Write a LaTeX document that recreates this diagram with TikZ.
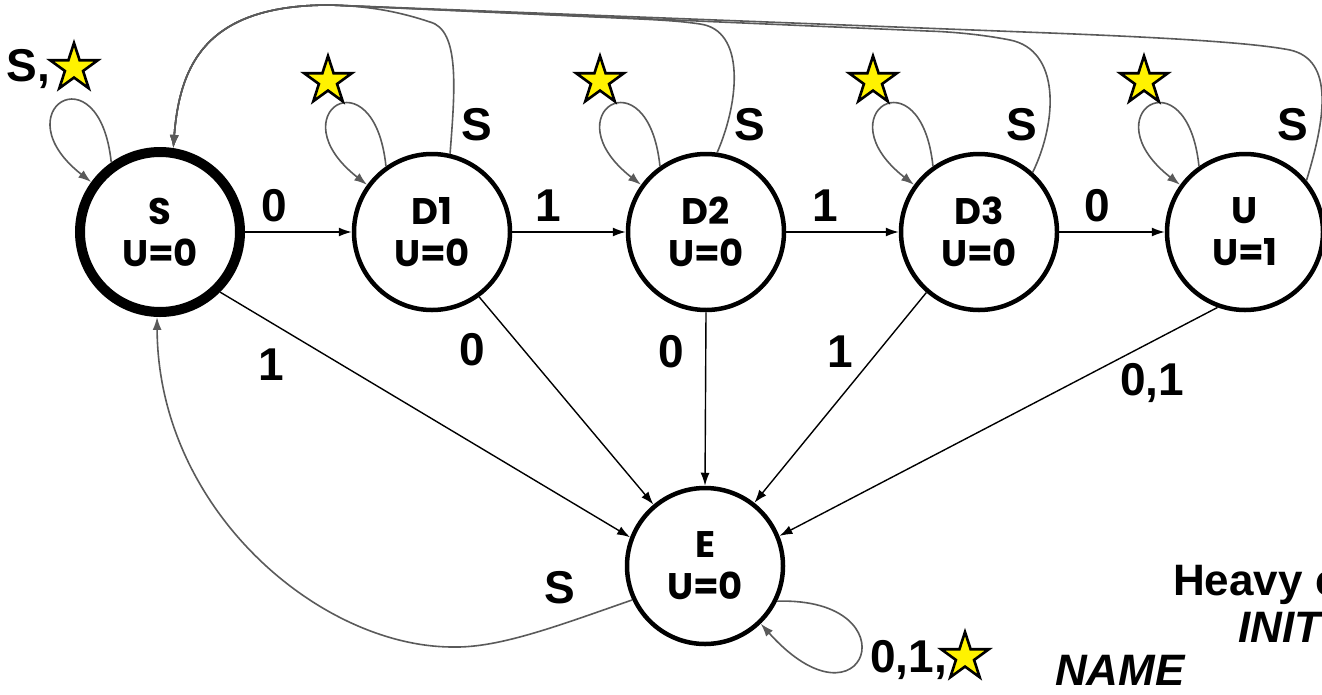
\documentclass[tikz,border=0pt]{standalone}
\usepackage{fontspec}
\setmainfont{Liberation Sans}
\newfontfamily\statefont{Poppins}
\usetikzlibrary{arrows.meta,shapes.geometric}
\definecolor{loopgray}{RGB}{90,90,90}

\begin{document}
\begin{tikzpicture}[x=1pt,y=1pt]
	\tikzstyle{every node}+=[inner sep=0pt]
	\tikzstyle{state}=[circle,draw=black,line width=4.5pt,minimum size=156pt,align=center,font=\statefont\bfseries\fontsize{37}{42}\selectfont]
	\tikzstyle{lbl}=[font=\bfseries\fontsize{46}{50}\selectfont]
	\tikzstyle{note}=[anchor=base west,font=\bfseries\fontsize{44}{48}\selectfont]
	\tikzstyle{edge}=[black,line width=1.4pt,-{Latex[length=13pt,width=9pt]}]
	\tikzstyle{sedge}=[loopgray,line width=1.6pt,-{Latex[length=13pt,width=9pt]}]
	\tikzstyle{selfloop}=[sedge,out=96,in=142,distance=115pt]
	\tikzstyle{staricon}=[star,star points=5,star point ratio=2.618,draw=black,fill=yellow,line width=2.6pt,minimum size=50pt]
	\useasboundingbox (0,0) rectangle (1322,-694);
	\clip (0,0) rectangle (1322,-694);
	% states
	\node [state,line width=10pt,minimum size=160pt] (s) at (160,-232) {S\\U=0};
	\node [state] (d1) at (432,-232) {D1\\U=0};
	\node [state] (d2) at (706,-232) {D2\\U=0};
	\node [state] (d3) at (979,-232) {D3\\U=0};
	\node [state] (u) at (1245,-232) {U\\U=1};
	\node [state] (e) at (705,-566) {E\\U=0};
	% forward edges
	\draw [edge] (s.east) -- (d1.west);
	\node [lbl] (l01) at (274,-206) {0};
	\draw [edge] (d1.east) -- (d2.west);
	\node [lbl] (l12) at (548,-206) {1};
	\draw [edge] (d2.east) -- (d3.west);
	\node [lbl] (l23) at (825,-206) {1};
	\draw [edge] (d3.east) -- (u.west);
	\node [lbl] (l3u) at (1097,-206) {0};
	% edges into E
	\draw [edge] (s.-45) -- (e.159);
	\node [lbl] (lse) at (271,-365) {1};
	\draw [edge] (d1.-54) -- (e.130);
	\node [lbl] (l1e) at (472,-350) {0};
	\draw [edge] (d2.south) -- (e.north);
	\node [lbl] (l2e) at (671,-352) {0};
	\draw [edge] (d3.229) -- (e.52);
	\node [lbl] (l3e) at (840,-352) {1};
	\draw [edge] (u.250) -- (e.22);
	\node [lbl] (lue) at (1152,-383) {0,1};
	% self loops
	\draw [selfloop] (s.125) to (s.144);
	\node [lbl,anchor=east] (lss) at (50,-69) {S,};
	\node [staricon] (ss) at (74,-68) {};
	\draw [selfloop] (d1.125) to (d1.144);
	\node [staricon] (s1) at (328,-81) {};
	\draw [selfloop] (d2.125) to (d2.144);
	\node [staricon] (s2) at (600,-81) {};
	\draw [selfloop] (d3.125) to (d3.144);
	\node [staricon] (s3) at (873,-81) {};
	\draw [selfloop] (u.125) to (u.144);
	\node [staricon] (su) at (1144,-81) {};
	\draw [sedge] (e.-26) .. controls (915,-597) and (865,-740) .. (e.-46);
	\node [lbl,anchor=east] (lee) at (947,-660) {0,1,};
	\node [staricon] (se) at (965,-657) {};
	% S edges back to the start
	\draw [sedge] (d1.77) .. controls (455,-90) and (460,-30) .. (430,-22)
		.. controls (400,-12) and (370,-6) .. (330,-5)
		.. controls (210,-5) and (180,-60) .. (s.81);
	\node [lbl] (ls1) at (477,-125) {S};
	\draw [sedge] (d2.82) .. controls (740,-100) and (745,-30) .. (700,-24)
		.. controls (680,-21) and (660,-20) .. (640,-19) -- (330,-5)
		.. controls (210,-5) and (180,-60) .. (s.81);
	\node [lbl] (ls2) at (750,-125) {S};
	\draw [sedge] (d3.48) .. controls (1058,-120) and (1060,-50) .. (1010,-40)
		.. controls (990,-36) and (960,-32) .. (927,-31) -- (330,-5)
		.. controls (210,-5) and (180,-60) .. (s.81);
	\node [lbl] (ls3) at (1022,-125) {S};
	\draw [sedge] (u.40) .. controls (1325,-120) and (1335,-60) .. (1290,-50)
		.. controls (1250,-42) and (1150,-37) .. (1050,-33) -- (330,-5)
		.. controls (210,-5) and (180,-60) .. (s.81);
	\node [lbl] (lsu) at (1293,-125) {S};
	\draw [sedge] (e.205) .. controls (560,-625) and (500,-648) .. (453,-647)
		.. controls (320,-647) and (158,-510) .. (s.268);
	\node [lbl] (les) at (560,-588) {S};
	% legend, cut by the edge
	\node [note] (n1) at (1173,-595) {Heavy c};
	\node [note,font=\bfseries\itshape\fontsize{44}{48}\selectfont] (n2) at (1238,-642) {INIT};
	\node [note,font=\bfseries\itshape\fontsize{44}{48}\selectfont] (n3) at (1055,-685) {NAME};
\end{tikzpicture}
\end{document}
